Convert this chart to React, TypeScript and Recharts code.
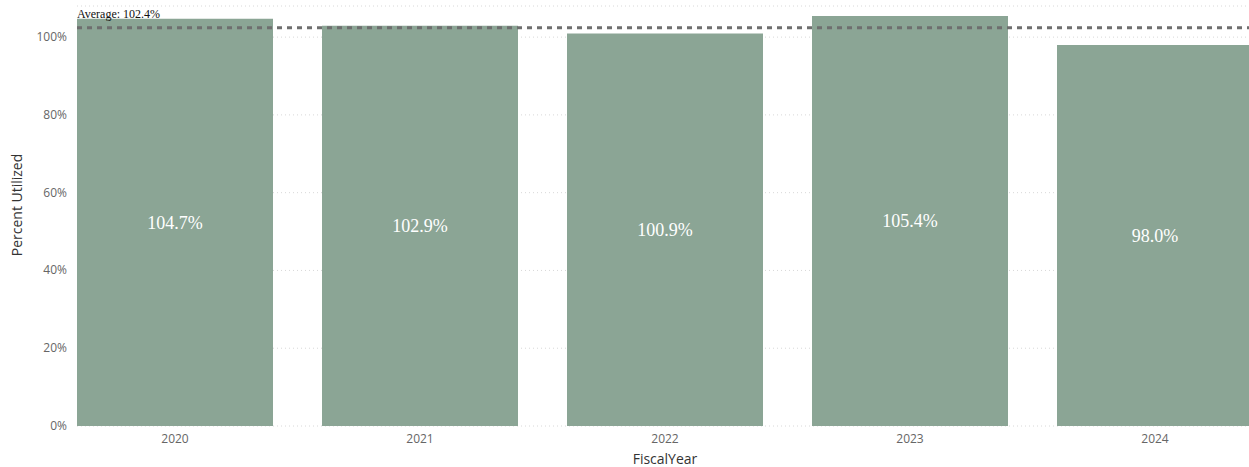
import React from "react";
import { BarChart, Bar, XAxis, YAxis, CartesianGrid, ReferenceLine, LabelList, Label } from "recharts";

const years = ["2020", "2021", "2022", "2023", "2024"];
const utilized = [104.7, 102.9, 100.9, 105.4, 98.0];
const yTicks = [0, 20, 40, 60, 80, 100];
const averageValue = 102.4;

const data = years.map((y, i) => ({ year: y, value: utilized[i] }));

const sans = "'Open Sans', 'Noto Sans', sans-serif";
const serif = "'Liberation Serif', 'Times New Roman', serif";

const PLOT_INSET = 24.5; // half the gap between bars: visuals start at first bar edge

const AvgLabel = (props: any) => {
  const vb = props.viewBox || {};
  return (
    <text x={vb.x + PLOT_INSET} y={vb.y - 10} fontFamily={serif} fontSize={12} fill="#111">
      {`Average: ${averageValue}%`}
    </text>
  );
};

const AvgLine = (props: any) => {
  const { x1, y1, x2, y2 } = props;
  return (
    <line x1={x1 + PLOT_INSET} y1={y1} x2={x2} y2={y2} stroke="#6e6e6e" strokeWidth={3} strokeDasharray="5 5" />
  );
};

const YTick = (props: any) => {
  const { x, y, payload } = props;
  return (
    <text x={x + PLOT_INSET - 10} y={y} dy={4} textAnchor="end" fill="#666" fontSize={12} fontFamily={sans}>
      {`${payload.value}%`}
    </text>
  );
};

const YTitle = () => (
  <text transform="translate(22,205) rotate(-90)" textAnchor="middle" fill="#333" fontSize={14} fontFamily={sans}>
    Percent Utilized
  </text>
);

export default function App() {
  return (
    <div style={{ position: "absolute", left: 0, top: 0, width: 1249, height: 467, overflow: "hidden", background: "#fff" }}>
      <BarChart
        width={1277.5}
        height={467}
        data={data}
        margin={{ top: 6, right: 0, bottom: 0, left: 0 }}
        barCategoryGap="10%"
      >
        <CartesianGrid vertical={false} stroke="#d8d8d8" strokeDasharray="1 3" x={77} width={1225} />
        <XAxis
          dataKey="year"
          axisLine={false}
          tickLine={false}
          height={41}
          tick={{ fill: "#666", fontSize: 12, fontFamily: sans }}
          tickMargin={2}
        >
          <Label value="FiscalYear" position="insideBottom" offset={3} style={{ fill: "#333", fontSize: 14, fontFamily: sans }} />
        </XAxis>
        <YAxis
          domain={[0, 108]}
          ticks={yTicks}
          allowDataOverflow
          axisLine={false}
          tickLine={false}
          tickSize={0}
          width={52.5}
          tick={<YTick />}
          tickMargin={0}
        >
          <Label content={<YTitle />} />
        </YAxis>
        <Bar dataKey="value" fill="#8ba595" isAnimationActive={false}>
          <LabelList
            dataKey="value"
            position="center"
            formatter={(v: number) => `${v.toFixed(1)}%`}
            style={{ fill: "#fff", fontSize: 18, fontFamily: serif }}
          />
        </Bar>
        <ReferenceLine y={averageValue} shape={<AvgLine />} label={<AvgLabel />} />
      </BarChart>
    </div>
  );
}
